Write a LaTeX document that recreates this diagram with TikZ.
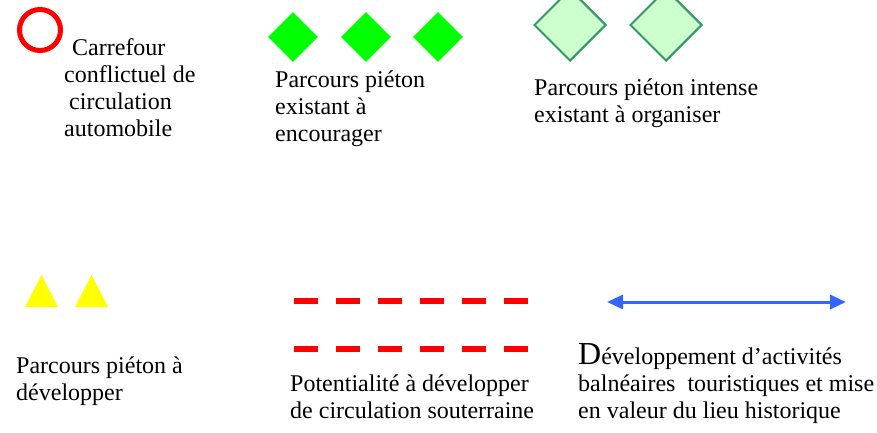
\documentclass[tikz,border=0pt]{standalone}
\usepackage{fontspec}
\setmainfont{Liberation Serif}
\usepackage{xcolor}
\usepackage{tikz}
\usetikzlibrary{shapes,arrows.meta,positioning}
\definecolor{carred}{HTML}{FF0000}
\definecolor{walkgreen}{HTML}{00FF00}
\definecolor{palegreen}{HTML}{CCFFCC}
\definecolor{palegreenline}{HTML}{339966}
\definecolor{walkyellow}{HTML}{FFFF00}
\definecolor{beachblue}{HTML}{3366FF}
% base anchor = baseline of the last line
\tikzstyle{legtext} = [anchor=base west, inner sep=0pt, align=left,
  font=\fontsize{24}{27}\selectfont]
\tikzstyle{fulldiam} = [diamond, fill=walkgreen, inner sep=0pt,
  minimum width=50pt, minimum height=50pt]
\tikzstyle{palediam} = [diamond, fill=palegreen, draw=palegreenline,
  line width=2pt, inner sep=0pt, minimum width=72pt, minimum height=72pt]
\tikzstyle{tunnel} = [draw=carred, line width=5.5pt, dash pattern=on 24pt off 18pt]

\begin{document}
\begin{tikzpicture}[
      x=1pt, y=-1pt
    ]
      \useasboundingbox (0,0) rectangle (877,433);
      % carrefour
      \node (cross) [circle, draw=carred, line width=5pt, minimum size=41pt,
        inner sep=0pt] at (40,30) {};
      \node (crosstxt) [legtext] at (64,136)
        {\hspace*{8pt}Carrefour\\ conflictuel de\\ \hspace*{5pt}circulation\\ automobile};
      % parcours existant
      \node (walkA) [fulldiam] at (293,37) {};
      \node (walkB) [fulldiam] at (366,37) {};
      \node (walkC) [fulldiam] at (438,37) {};
      \node (walktxt) [legtext] at (275,141)
        {Parcours piéton\\ existant à\\ encourager};
      % parcours intense
      \node (denseA) [palediam] at (570,25) {};
      \node (denseB) [palediam] at (666,25) {};
      \node (densetxt) [legtext] at (534,122)
        {Parcours piéton intense\\ existant à organiser};
      % parcours a developper
      \fill[walkyellow] (25,307) -- (41.5,275) -- (58,307) -- cycle;
      \fill[walkyellow] (75,307) -- (91.5,275) -- (108,307) -- cycle;
      \node (newtxt) [legtext] at (16,400)
        {Parcours piéton à\\ développer};
      % souterrain
      \coordinate (tunA1) at (294,301);
      \coordinate (tunA2) at (528,301);
      \coordinate (tunB1) at (294,349);
      \coordinate (tunB2) at (528,349);
      \draw[tunnel] (tunA1) -- (tunA2);
      \draw[tunnel] (tunB1) -- (tunB2);
      \node (tuntxt) [legtext] at (290,418)
        {Potentialité à développer\\ de circulation souterraine};
      % balneaire
      \coordinate (beachL) at (607,302);
      \coordinate (beachR) at (846,302);
      \draw[beachblue, line width=3pt,
        {Triangle[length=16pt,width=14pt]}-{Triangle[length=16pt,width=14pt]}]
        (beachL) -- (beachR);
      \node (beachtxt) [legtext] at (578,418)
        {{\fontsize{32}{27}\selectfont D}éveloppement d’activités\\
         balnéaires\ \ touristiques et mise\\ en valeur du lieu historique};
    \end{tikzpicture}
\end{document}
